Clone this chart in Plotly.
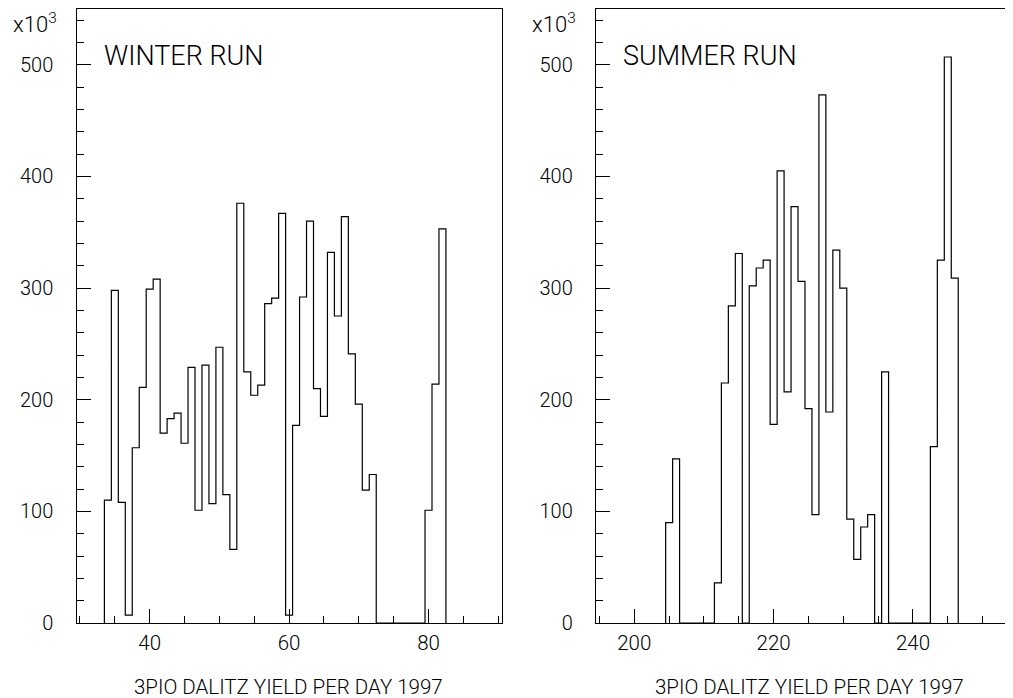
import plotly.graph_objects as go

# ---------------- data (yields in units of 10^3 per day) ----------------
winter_days = list(range(34, 83))
winter_yield = [110, 298, 108, 7, 157, 211, 299, 308, 170, 183,
                188, 161, 229, 101, 231, 107, 247, 115, 66, 376,
                225, 204, 213, 286, 291, 367, 7, 177, 292, 360,
                210, 185, 332, 275, 364, 241, 196, 119, 133,
                0, 0, 0, 0, 0, 0, 0,
                101, 214, 353]

summer_days = list(range(205, 247))
summer_yield = [90, 147,
                0, 0, 0, 0, 0,
                36, 215, 284, 331, 0,
                302, 318, 325, 178, 405, 207, 373, 306, 192, 97,
                473, 189, 334, 300, 93, 57, 86, 97, 0, 225,
                0, 0, 0, 0, 0, 0,
                158, 325, 507, 309]

panel_titles = ["WINTER RUN", "SUMMER RUN"]
x_title = "3PIO DALITZ YIELD PER DAY 1997"
y_multiplier = "x10<sup>3</sup>"


def step_outline(days, vals):
    xs = [days[0] - 0.5] + [d - 0.5 for d in days] + [days[-1] + 0.5]
    ys = [0] + list(vals) + [0]
    return xs, ys


# page has an 8px body margin; the figure is sized so it ends at the window edge
OFF = 8
W, H = 1013 - OFF, 698 - OFF
MT = 9 - OFF
MB = H - (623.3 - OFF)
PH = H - MT - MB


def px(x):  # page pixel -> paper x
    return (x - OFF) / W


def py(y):  # page pixel -> paper y
    return (H - MB - (y - OFF)) / PH


FONT = dict(family="Roboto, Liberation Sans, Arial", color="black", size=20, weight=300)
LINE = "black"

fig = go.Figure()
wx, wy = step_outline(winter_days, winter_yield)
sx, sy = step_outline(summer_days, summer_yield)
fig.add_trace(go.Scatter(x=wx, y=wy, mode="lines", line=dict(shape="hv", color=LINE, width=1.2),
                         xaxis="x", yaxis="y", showlegend=False, hoverinfo="skip"))
fig.add_trace(go.Scatter(x=sx, y=sy, mode="lines", line=dict(shape="hv", color=LINE, width=1.2),
                         xaxis="x2", yaxis="y2", showlegend=False, hoverinfo="skip"))

common_x = dict(showgrid=False, zeroline=False, showline=True, linecolor=LINE, linewidth=1.4,
                mirror=True, ticks="inside", ticklen=14, tickwidth=1.3, tickcolor=LINE,
                dtick=20, tick0=0, tickfont=dict(FONT, size=20.5), ticklabelstandoff=1,
                automargin=False,
                minor=dict(ticks="inside", ticklen=7, tickwidth=1.3, tickcolor=LINE, dtick=5, tick0=0))
common_y = dict(showgrid=False, zeroline=False, showline=True, linecolor=LINE, linewidth=1.4,
                ticks="inside", ticklen=14, tickwidth=1.3, tickcolor=LINE,
                dtick=100, tick0=0, range=[0, 550], tickfont=FONT, ticklabelstandoff=18,
                automargin=False,
                minor=dict(ticks="inside", ticklen=7, tickwidth=1.3, tickcolor=LINE, dtick=20, tick0=0))

fig.update_layout(
    width=W, height=H,
    margin=dict(l=0, r=0, t=MT, b=MB),
    paper_bgcolor="white", plot_bgcolor="white",
    font=FONT,
    xaxis=dict(common_x, domain=[px(76.5), px(501.7)], range=[29.5, 90.5], anchor="y"),
    yaxis=dict(common_y, domain=[0, 1], anchor="x", mirror=True),
    xaxis2=dict(common_x, domain=[px(596), 1.0], range=[194.5, 194.5 + (1013 - 596) / 6.966], anchor="y2"),
    yaxis2=dict(common_y, domain=[0, 1], anchor="x2", mirror=False),
)

# panel labels
fig.add_annotation(text=panel_titles[0], xref="paper", yref="paper", x=px(102), y=py(56.5),
                   xanchor="left", yanchor="middle", showarrow=False, font=dict(FONT, size=27))
fig.add_annotation(text=panel_titles[1], xref="paper", yref="paper", x=px(621), y=py(56.5),
                   xanchor="left", yanchor="middle", showarrow=False, font=dict(FONT, size=27))
# x titles
fig.add_annotation(text=x_title, xref="paper", yref="paper", x=px(288.5), y=py(687),
                   xanchor="center", yanchor="middle", showarrow=False, font=dict(FONT, size=20.5))
fig.add_annotation(text=x_title, xref="paper", yref="paper", x=px(809), y=py(687),
                   xanchor="center", yanchor="middle", showarrow=False, font=dict(FONT, size=20.5))
# multipliers
fig.add_annotation(text=y_multiplier, xref="paper", yref="paper", x=px(59), y=py(23.5),
                   xanchor="right", yanchor="middle", showarrow=False, font=dict(FONT, size=22))
fig.add_annotation(text=y_multiplier, xref="paper", yref="paper", x=px(578), y=py(23.5),
                   xanchor="right", yanchor="middle", showarrow=False, font=dict(FONT, size=22))

fig.write_html("out.html")
